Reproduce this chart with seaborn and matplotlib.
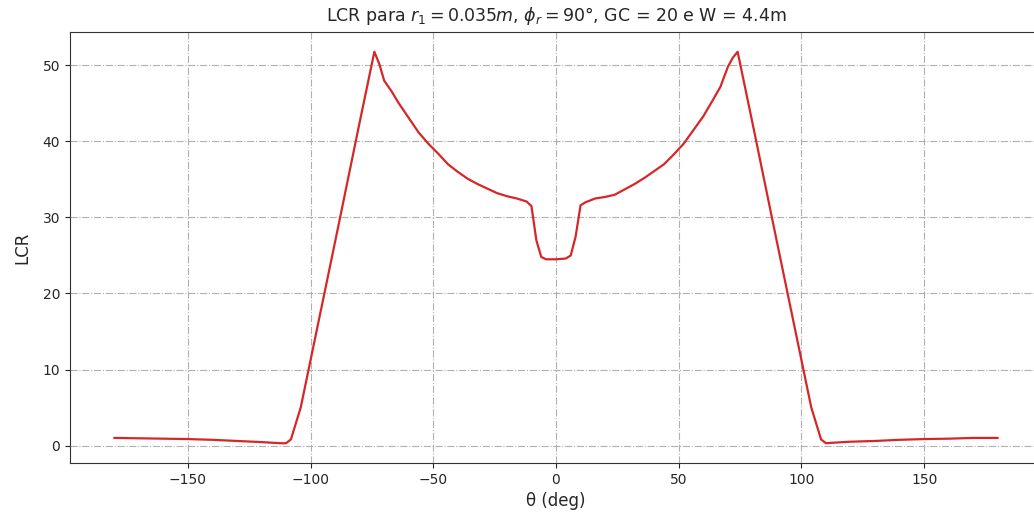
import matplotlib
matplotlib.use('Agg')
import matplotlib.pyplot as plt
import seaborn as sns
import pandas as pd

# dados (LCR vs theta)
theta = [-180, -170, -160, -150, -140, -130, -120, -112, -110, -108, -104,
         -90, -80, -74, -72, -70, -67, -64, -60, -56, -52, -48, -44, -40,
         -36, -32, -28, -24, -20, -16, -12, -10, -8, -6, -4, 0, 4, 6, 8,
         10, 12, 16, 20, 24, 28, 32, 36, 40, 44, 48, 52, 56, 60, 64, 67,
         70, 72, 74, 80, 90, 104, 108, 110, 112, 120, 130, 140, 150, 160,
         170, 180]
lcr = [1.0, 0.95, 0.9, 0.85, 0.75, 0.6, 0.45, 0.3, 0.3, 0.8, 5.0,
       26.8, 42.5, 51.8, 50.2, 48.0, 46.6, 45.0, 43.1, 41.2, 39.7, 38.4, 37.0, 36.0,
       35.1, 34.4, 33.8, 33.2, 32.8, 32.5, 32.1, 31.5, 27.0, 24.8, 24.5, 24.5, 24.6, 25.0, 27.5,
       31.6, 32.0, 32.5, 32.7, 33.0, 33.7, 34.4, 35.2, 36.1, 37.0, 38.3, 39.7, 41.5, 43.3, 45.5, 47.2,
       49.8, 51.0, 51.8, 42.5, 26.8, 5.0, 0.8, 0.3, 0.35, 0.5, 0.6, 0.75, 0.85, 0.9,
       1.0, 1.0]

df = pd.DataFrame({'theta': theta, 'LCR': lcr})

sns.set_style('ticks')
plt.rcParams['font.family'] = ['DejaVu Sans']

fig = plt.figure(figsize=(10.34, 5.23), dpi=100)
ax = fig.add_axes([70 / 1034, 1 - 463 / 523, 972 / 1034, 431 / 523])

sns.lineplot(data=df, x='theta', y='LCR', color='#d62728', linewidth=1.6, ax=ax)

ax.set_xlim(-198, 198)
ax.set_ylim(-2.3, 54.4)
ax.set_xticks([-150, -100, -50, 0, 50, 100, 150])
ax.set_yticks([0, 10, 20, 30, 40, 50])
ax.grid(True, linestyle='-.', color='#b0b0b0', linewidth=0.8)
ax.tick_params(labelsize=10)
for s in ax.spines.values():
    s.set_color('#333333')

ax.set_title(r'LCR para $r_1 = 0.035m$, $\phi_r = 90°$, GC = 20 e W = 4.4m',
             fontsize=12.5, pad=8)
ax.set_xlabel('θ (deg)', fontsize=12)
ax.set_ylabel('LCR', fontsize=12, labelpad=8)

fig.savefig('out.png', dpi=100)
